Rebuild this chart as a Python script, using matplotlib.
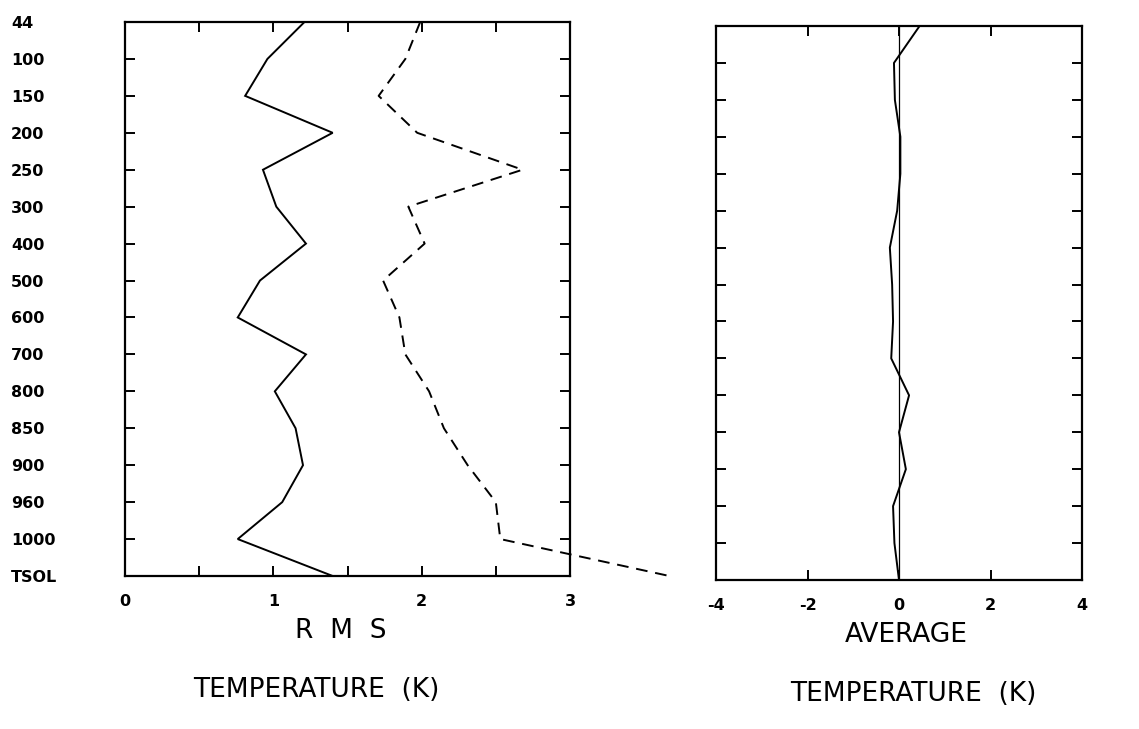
import matplotlib
matplotlib.use('Agg')
import matplotlib.pyplot as plt

# ─── Data ─────────────────────────────────────────────────────────────────────
LEVELS = ['44', '100', '150', '200', '250', '300', '400', '500', '600',
          '700', '800', '850', '900', '960', '1000', 'TSOL']
RMS_SOLID = [1.21, 0.96, 0.81, 1.40, 0.93, 1.02, 1.22, 0.91,
             0.76, 1.22, 1.01, 1.15, 1.20, 1.06, 0.76, 1.40]
RMS_DASHED = [1.99, 1.89, 1.71, 1.97, 2.68, 1.91, 2.02, 1.74,
              1.85, 1.89, 2.05, 2.15, 2.31, 2.50, 2.53, 3.67]
AVG_SOLID = [0.45, -0.11, -0.09, 0.03, 0.03, -0.04, -0.20, -0.15,
             -0.13, -0.17, 0.22, 0.00, 0.15, -0.13, -0.10, 0.00]

RMS_TICKS = [0, 0.5, 1, 1.5, 2, 2.5, 3]
RMS_TICKLABELS = ['0', '', '1', '', '2', '', '3']
AVG_TICKS = [-4, -2, 0, 2, 4]

# ─── Canvas ────────────────────────────────────────────────────────────────────
W, H = 1139, 729
fig = plt.figure(figsize=(W / 100, H / 100), dpi=100)
fig.patch.set_facecolor('white')

FONT = 'DejaVu Sans'
INK = 'black'
TICK_FS = 11.5
TITLE_FS = 19
ypos = list(range(len(LEVELS)))


def px_axes(x0, y0, x1, y1):
    return fig.add_axes([x0 / W, 1 - y1 / H, (x1 - x0) / W, (y1 - y0) / H])


def style(ax):
    for s in ax.spines.values():
        s.set_linewidth(1.6)
        s.set_color(INK)
    ax.tick_params(axis='both', direction='in', length=7, width=1.4,
                   top=True, right=True, colors=INK)
    ax.set_ylim(len(LEVELS) - 1, 0)


# ─── Left panel: RMS ──────────────────────────────────────────────────────────
ax1 = px_axes(125, 22, 570, 576)
style(ax1)
ax1.set_xlim(0, 3)
ax1.plot(RMS_SOLID, ypos, color=INK, lw=1.4, solid_joinstyle='miter')
ax1.plot(RMS_DASHED, ypos, color=INK, lw=1.4, linestyle=(0, (6, 4)),
         clip_on=False)
ax1.set_xticks(RMS_TICKS)
ax1.set_xticklabels(RMS_TICKLABELS, fontsize=TICK_FS, fontweight='bold',
                    family=FONT)
ax1.tick_params(axis='x', pad=13)
ax1.set_yticks(ypos)
ax1.set_yticklabels(LEVELS, fontsize=TICK_FS, fontweight='bold', family=FONT)
ax1.tick_params(axis='y', pad=82)
for t in ax1.get_yticklabels():
    t.set_horizontalalignment('left')

ax1.text(0.485, -0.1, 'R  M  S', transform=ax1.transAxes, ha='center',
         va='center', fontsize=TITLE_FS, family=FONT, color=INK)
ax1.text(0.43, -0.205, 'TEMPERATURE  (K)', transform=ax1.transAxes,
         ha='center', va='center', fontsize=TITLE_FS, family=FONT, color=INK)

# ─── Right panel: average ─────────────────────────────────────────────────────
ax2 = px_axes(716, 26, 1082, 580)
style(ax2)
ax2.set_xlim(-4, 4)
ax2.axvline(0, color=INK, lw=0.9)
ax2.plot(AVG_SOLID, ypos, color=INK, lw=1.4)
ax2.set_xticks(AVG_TICKS)
ax2.set_xticklabels([str(v) for v in AVG_TICKS], fontsize=TICK_FS,
                    fontweight='bold', family=FONT)
ax2.tick_params(axis='x', pad=13)
ax2.set_yticks(ypos)
ax2.set_yticklabels([])

ax2.text(0.52, -0.1, 'AVERAGE', transform=ax2.transAxes, ha='center',
         va='center', fontsize=TITLE_FS, family=FONT, color=INK)
ax2.text(0.54, -0.205, 'TEMPERATURE  (K)', transform=ax2.transAxes,
         ha='center', va='center', fontsize=TITLE_FS, family=FONT, color=INK)

fig.savefig('out.png', dpi=100, facecolor='white')
